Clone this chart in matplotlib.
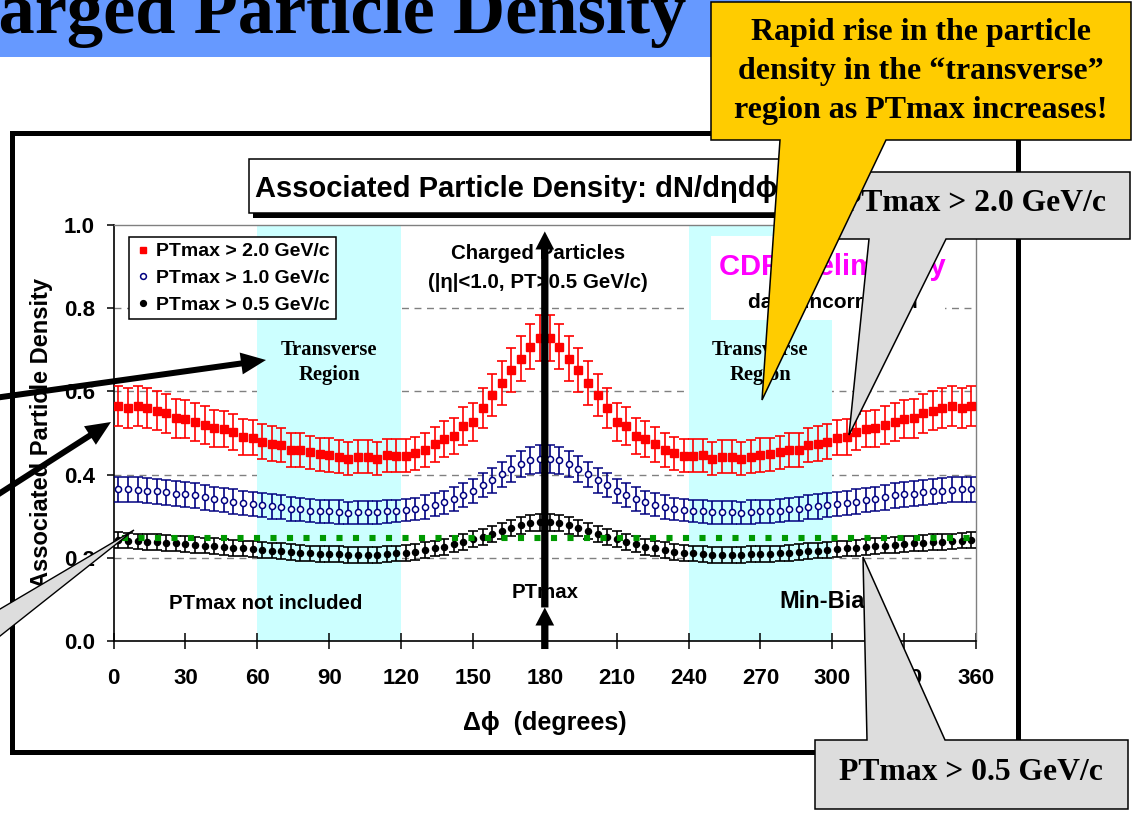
import numpy as np
import matplotlib.pyplot as plt
from matplotlib.lines import Line2D
from matplotlib.patches import Polygon, Rectangle, FancyArrow

plt.rcParams['font.family'] = ['Liberation Sans', 'DejaVu Sans']
plt.rcParams['font.weight'] = 'bold'
plt.rcParams['axes.labelweight'] = 'bold'

# delta-phi bin centres (4 degree bins)
phi = np.arange(2, 360, 4)

# PTmax > 2.0 GeV/c
red = [0.565, 0.559, 0.565, 0.559, 0.553, 0.547, 0.535, 0.533, 0.526, 0.519,
       0.511, 0.510, 0.502, 0.490, 0.489, 0.479, 0.474, 0.470, 0.459, 0.459,
       0.453, 0.449, 0.447, 0.443, 0.438, 0.443, 0.443, 0.438, 0.446, 0.445,
       0.445, 0.451, 0.459, 0.473, 0.486, 0.493, 0.517, 0.527, 0.559, 0.591,
       0.620, 0.651, 0.679, 0.708, 0.728,
       0.728, 0.708, 0.679, 0.651, 0.620, 0.591, 0.559, 0.527, 0.517, 0.493,
       0.486, 0.473, 0.459, 0.451, 0.445, 0.445, 0.446, 0.438, 0.443, 0.443,
       0.438, 0.443, 0.447, 0.449, 0.453, 0.459, 0.459, 0.470, 0.474, 0.479,
       0.489, 0.490, 0.502, 0.510, 0.511, 0.519, 0.526, 0.533, 0.535, 0.547,
       0.553, 0.559, 0.565, 0.559, 0.565]
red_err = [0.048, 0.048, 0.048, 0.048, 0.047, 0.047, 0.046, 0.046, 0.045, 0.045,
           0.044, 0.044, 0.044, 0.043, 0.043, 0.042, 0.042, 0.041, 0.041, 0.041,
           0.040, 0.040, 0.040, 0.040, 0.040, 0.040, 0.040, 0.040, 0.040, 0.040,
           0.040, 0.040, 0.041, 0.042, 0.043, 0.043, 0.045, 0.046, 0.048, 0.050,
           0.052, 0.053, 0.054, 0.055, 0.056,
           0.056, 0.055, 0.054, 0.053, 0.052, 0.050, 0.048, 0.046, 0.045, 0.043,
           0.043, 0.042, 0.041, 0.040, 0.040, 0.040, 0.040, 0.040, 0.040, 0.040,
           0.040, 0.040, 0.040, 0.040, 0.040, 0.041, 0.041, 0.041, 0.042, 0.042,
           0.043, 0.043, 0.044, 0.044, 0.044, 0.045, 0.045, 0.046, 0.046, 0.047,
           0.047, 0.048, 0.048, 0.048, 0.048]

# PTmax > 1.0 GeV/c
blue = [0.365, 0.364, 0.363, 0.361, 0.360, 0.357, 0.354, 0.352, 0.350, 0.345,
        0.342, 0.339, 0.335, 0.332, 0.329, 0.327, 0.323, 0.321, 0.317, 0.316,
        0.313, 0.311, 0.311, 0.310, 0.308, 0.309, 0.309, 0.309, 0.311, 0.312,
        0.314, 0.317, 0.322, 0.327, 0.333, 0.341, 0.351, 0.361, 0.375, 0.386,
        0.401, 0.414, 0.425, 0.434, 0.437,
        0.437, 0.434, 0.425, 0.414, 0.401, 0.386, 0.375, 0.361, 0.351, 0.341,
        0.333, 0.327, 0.322, 0.317, 0.314, 0.312, 0.311, 0.309, 0.309, 0.309,
        0.308, 0.310, 0.311, 0.311, 0.313, 0.316, 0.317, 0.321, 0.323, 0.327,
        0.329, 0.332, 0.335, 0.339, 0.342, 0.345, 0.350, 0.352, 0.354, 0.357,
        0.360, 0.361, 0.363, 0.364, 0.365]
blue_err = [0.030, 0.030, 0.030, 0.030, 0.030, 0.030, 0.030, 0.030, 0.030, 0.030,
            0.029, 0.029, 0.029, 0.029, 0.029, 0.029, 0.029, 0.029, 0.028, 0.028,
            0.028, 0.028, 0.028, 0.028, 0.027, 0.027, 0.027, 0.027, 0.027, 0.027,
            0.027, 0.027, 0.028, 0.028, 0.028, 0.028, 0.029, 0.029, 0.029, 0.030,
            0.030, 0.031, 0.031, 0.032, 0.033,
            0.033, 0.032, 0.031, 0.031, 0.030, 0.030, 0.029, 0.029, 0.029, 0.028,
            0.028, 0.028, 0.028, 0.027, 0.027, 0.027, 0.027, 0.027, 0.027, 0.027,
            0.027, 0.028, 0.028, 0.028, 0.028, 0.028, 0.028, 0.029, 0.029, 0.029,
            0.029, 0.029, 0.029, 0.029, 0.029, 0.030, 0.030, 0.030, 0.030, 0.030,
            0.030, 0.030, 0.030, 0.030, 0.030]

# PTmax > 0.5 GeV/c
black = [0.242, 0.241, 0.239, 0.238, 0.237, 0.235, 0.234, 0.232, 0.231, 0.229,
         0.227, 0.226, 0.223, 0.222, 0.220, 0.218, 0.217, 0.215, 0.213, 0.212,
         0.210, 0.209, 0.209, 0.208, 0.207, 0.207, 0.207, 0.207, 0.209, 0.210,
         0.212, 0.214, 0.218, 0.222, 0.226, 0.232, 0.238, 0.244, 0.250, 0.257,
         0.264, 0.271, 0.278, 0.283, 0.285,
         0.285, 0.283, 0.278, 0.271, 0.264, 0.257, 0.250, 0.244, 0.238, 0.232,
         0.226, 0.222, 0.218, 0.214, 0.212, 0.210, 0.209, 0.207, 0.207, 0.207,
         0.207, 0.208, 0.209, 0.209, 0.210, 0.212, 0.213, 0.215, 0.217, 0.218,
         0.220, 0.222, 0.223, 0.226, 0.227, 0.229, 0.231, 0.232, 0.234, 0.235,
         0.237, 0.238, 0.239, 0.241, 0.242]
black_err = [0.019] * 38 + [0.020] * 14 + [0.019] * 38

minbias = 0.246
transverse = [(60, 120), (240, 300)]
labels = ['PTmax > 2.0 GeV/c', 'PTmax > 1.0 GeV/c', 'PTmax > 0.5 GeV/c']
xticks = np.arange(0, 361, 30)
yticks = [0.0, 0.2, 0.4, 0.6, 0.8, 1.0]

W, H = 1134, 815
fig = plt.figure(figsize=(W / 100, H / 100), dpi=100)
ax = fig.add_axes([113.6 / W, 1 - 640.7 / H, 862.4 / W, 415.5 / H])
ax.set_xlim(0, 360)
ax.set_ylim(0, 1)

for y in yticks[1:-1]:
    ax.axhline(y, color='#808080', lw=1, ls=(0, (5, 4)), zorder=0.5)
for a, b in transverse:
    ax.axvspan(a, b, color='#CCFFFF', lw=0, zorder=0.6)
ax.add_patch(Rectangle((249.4, 0.772), 97.6, 0.203, fc='white', ec='none', zorder=0.7))

ax.errorbar(phi, red, yerr=red_err, fmt='s', color='red', ms=5.5, capsize=3.3,
            elinewidth=1.2, capthick=1.2, zorder=3)
ax.errorbar(phi, blue, yerr=blue_err, fmt='o', color='#000080', mfc='white', mec='#000080',
            mew=1.1, ms=4.4, capsize=3.3, elinewidth=1.2, capthick=1.2, zorder=3)
ax.errorbar(phi, black, yerr=black_err, fmt='o', color='black', ms=4.4, capsize=3.3,
            elinewidth=1.2, capthick=1.2, zorder=3)
ax.axhline(minbias, color='#009900', lw=4.4, ls=(1.4, (1, 1.7)), dash_capstyle='butt',
           zorder=3.5)

ax.set_xticks(xticks)
ax.set_yticks(yticks)
ax.set_yticklabels([f'{v:.1f}' for v in yticks])
ax.tick_params(axis='x', direction='inout', length=11.5, width=1.1, pad=14, labelsize=16)
ax.tick_params(axis='y', direction='out', length=5, width=1.1, pad=8.5, labelsize=16)
for s in ['top', 'right']:
    ax.spines[s].set_color('#808080')
    ax.spines[s].set_linewidth(1)
for s in ['left', 'bottom']:
    ax.spines[s].set_linewidth(1.2)

ax.set_ylabel('Associated Particle Density', fontsize=17, fontweight='bold')
ax.yaxis.set_label_coords(-0.084, 0.5)
ax.yaxis.label.set_va('center')
ax.set_xlabel('Δϕ  (degrees)', fontsize=18, fontweight='bold')
ax.xaxis.set_label_coords(0.5, -0.198)
ax.xaxis.label.set_va('center')

handles = [Line2D([], [], ls='none', marker='s', ms=5, color='red'),
           Line2D([], [], ls='none', marker='o', ms=4.2, mfc='white', mec='#000080', mew=1.1),
           Line2D([], [], ls='none', marker='o', ms=4.2, color='black')]
leg = ax.legend(handles, labels, loc='upper left', bbox_to_anchor=(0.0179, 0.9716),
                borderaxespad=0, fontsize=14, fancybox=False, edgecolor='black',
                framealpha=1, handlelength=0.84, handletextpad=0.25,
                labelspacing=0.46, borderpad=0.3)
leg.get_frame().set_linewidth(1.1)
leg.set_zorder(6)

ax.text(177, 0.932, 'Charged Particles', ha='center', va='center', fontsize=14.8, zorder=4)
ax.text(177, 0.862, '(|η|<1.0, PT>0.5 GeV/c)', ha='center', va='center', fontsize=14.8, zorder=4)
ax.text(252.8, 0.899, 'CDF Preliminary', color='#FF00FF', ha='left', va='center',
        fontsize=21, zorder=4)
ax.text(300.4, 0.815, 'data uncorrected', ha='center', va='center', fontsize=15, zorder=4)
for cx in [90, 270]:
    ax.text(cx, 0.699, 'Transverse', family='Liberation Serif', ha='center', va='center',
            fontsize=14.8, zorder=4)
    ax.text(cx, 0.639, 'Region', family='Liberation Serif', ha='center', va='center',
            fontsize=14.8, zorder=4)
ax.text(63.4, 0.09, 'PTmax not included', ha='center', va='center', fontsize=14.7, zorder=4)
ax.text(180, 0.115, 'PTmax', ha='center', va='center', fontsize=14.7, zorder=4)
ax.text(277.9, 0.094, 'Min-Bias', ha='left', va='center', fontsize=17, zorder=4)

arrow_style = 'simple,head_length=1.3,head_width=1.35,tail_width=0.525'
ax.annotate('', xy=(180, 0.985), xytext=(180, 0.08), annotation_clip=False, zorder=6,
            arrowprops=dict(arrowstyle=arrow_style, mutation_scale=10, fc='k', ec='none',
                            lw=0, shrinkA=0, shrinkB=0))
ax.annotate('', xy=(180, 0.08), xytext=(180, -0.02), annotation_clip=False, zorder=6,
            arrowprops=dict(arrowstyle=arrow_style, mutation_scale=10, fc='k', ec='none',
                            lw=0, shrinkA=0, shrinkB=0))

# slide decorations drawn in pixel coordinates on top
ov = fig.add_axes([0, 0, 1, 1])
ov.set_xlim(0, W)
ov.set_ylim(H, 0)
ov.axis('off')
ov.set_zorder(2)

ov.add_patch(Rectangle((0, 0), 780, 57, fc='#6699FF', ec='none', zorder=1))
ov.text(-94, 33, 'Charged Particle Density', family='Liberation Serif', fontsize=52.1,
        ha='left', va='baseline', zorder=2)
ov.add_patch(Rectangle((12, 133), 1006, 619, fill=False, ec='k', lw=3.6, zorder=2))

ov.add_patch(Rectangle((253, 164), 545, 54, fc='k', ec='none', zorder=2))
ov.add_patch(Rectangle((249, 159), 545, 54, fc='white', ec='k', lw=1.1, zorder=2.1))
ov.text(255, 197, 'Associated Particle Density: dN/dηdϕ', fontsize=21, ha='left',
        va='baseline', zorder=2.2)

ov.add_patch(FancyArrow(-20, 400, 286, -40, width=6, head_width=22, head_length=25,
                        length_includes_head=True, fc='k', ec='none', zorder=4))
ov.add_patch(FancyArrow(-20, 506, 131, -84, width=6, head_width=22, head_length=25,
                        length_includes_head=True, fc='k', ec='none', zorder=4))
ov.add_patch(Polygon([(-5, 612), (134, 530), (-5, 640)], closed=True, fc='#DDDDDD',
                     ec='k', lw=1, zorder=4))

ov.add_patch(Polygon([(820, 172), (1130, 172), (1130, 239), (946, 239), (849, 435),
                      (869, 239), (820, 239)], closed=True, fc='#DDDDDD', ec='k',
                     lw=1.1, zorder=5))
ov.text(1106, 211, 'PTmax > 2.0 GeV/c', family='Liberation Serif', fontsize=22.8,
        ha='right', va='baseline', zorder=5.1)

ov.add_patch(Polygon([(711, 2), (1131, 2), (1131, 140), (886, 140), (762, 400),
                      (780, 140), (711, 140)], closed=True, fc='#FFCC00', ec='k',
                     lw=1.1, zorder=6))
for ty, line in zip([40, 79, 118], ['Rapid rise in the particle',
                                     'density in the “transverse”',
                                     'region as PTmax increases!']):
    ov.text(921, ty, line, family='Liberation Serif', fontsize=23, ha='center',
            va='baseline', zorder=6.1)

ov.add_patch(Polygon([(815, 740), (867, 740), (863, 557), (945, 740), (1128, 740),
                      (1128, 809), (815, 809)], closed=True, fc='#DDDDDD', ec='k',
                     lw=1.1, zorder=5))
ov.text(971, 780, 'PTmax > 0.5 GeV/c', family='Liberation Serif', fontsize=22.8,
        ha='center', va='baseline', zorder=5.1)

fig.savefig('out.png', dpi=100)
